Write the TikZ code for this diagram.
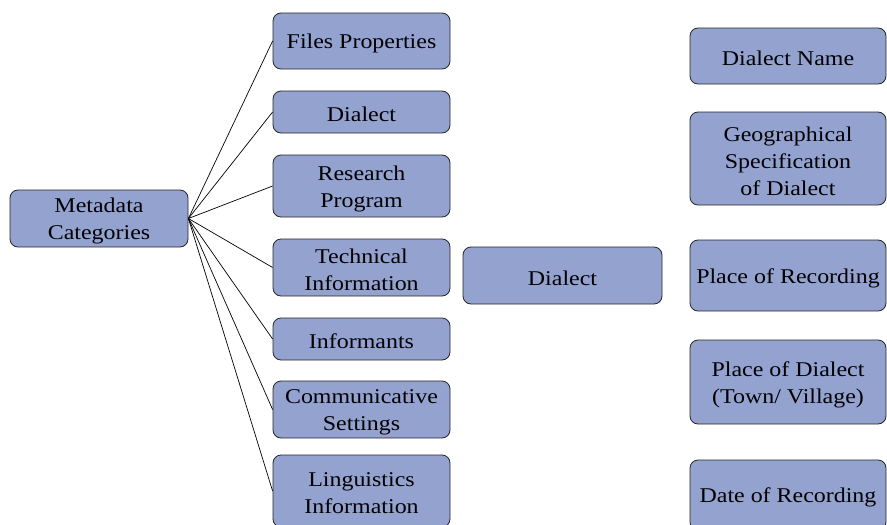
\documentclass[tikz,border=0pt]{standalone}
\usepackage{fontspec}
\setmainfont[FakeStretch=1.14]{Liberation Serif}
\definecolor{boxblue}{RGB}{148,162,208}
\tikzset{
  catbox/.style={draw=black!85, fill=boxblue, rounded corners=8pt,
    inner sep=0pt, line width=0.8pt,
    label={[align=center, font=\fontsize{21}{27}\selectfont, inner sep=0pt, yshift=-2.5pt]center:{#1}}},
  link/.style={draw=black, line width=0.7pt}
}
\begin{document}
\begin{tikzpicture}[x=1pt,y=-1pt]
\useasboundingbox (0,0) rectangle (887,525);
\node[catbox={Metadata\\Categories}, minimum width=178pt, minimum height=57pt] (meta) at (99,218.5) {};
\node[catbox={Files Properties}, minimum width=177pt, minimum height=56pt] (files) at (361.5,41) {};
\node[catbox={Dialect}, minimum width=177pt, minimum height=42pt] (dial) at (361.5,112) {};
\node[catbox={Research\\Program}, minimum width=177pt, minimum height=62pt] (res) at (361.5,186) {};
\node[catbox={Technical\\Information}, minimum width=177pt, minimum height=57pt] (tech) at (361.5,267.5) {};
\node[catbox={Informants}, minimum width=177pt, minimum height=42pt] (inf) at (361.5,339) {};
\node[catbox={Communicative\\Settings}, minimum width=177pt, minimum height=57pt] (comm) at (361.5,409.5) {};
\node[catbox={Linguistics\\Information}, minimum width=177pt, minimum height=72pt] (ling) at (361.5,491) {};
\node[catbox={Dialect}, minimum width=199pt, minimum height=57pt] (mid) at (562.5,275.5) {};
\node[catbox={Dialect Name}, minimum width=196pt, minimum height=56pt] (dname) at (788,56) {};
\node[catbox={Geographical\\Specification\\of Dialect}, minimum width=196pt, minimum height=93pt] (geo) at (788,158.5) {};
\node[catbox={Place of Recording}, minimum width=196pt, minimum height=71pt] (prec) at (788,275.5) {};
\node[catbox={Place of Dialect\\(Town/ Village)}, minimum width=196pt, minimum height=84pt] (pdia) at (788,382) {};
\node[catbox={Date of Recording}, minimum width=196pt, minimum height=70pt] (date) at (788,495) {};
\foreach \t in {files,dial,res,tech,inf,comm,ling}
  \draw[link] (meta.east) -- (\t.west);
\end{tikzpicture}
\end{document}
